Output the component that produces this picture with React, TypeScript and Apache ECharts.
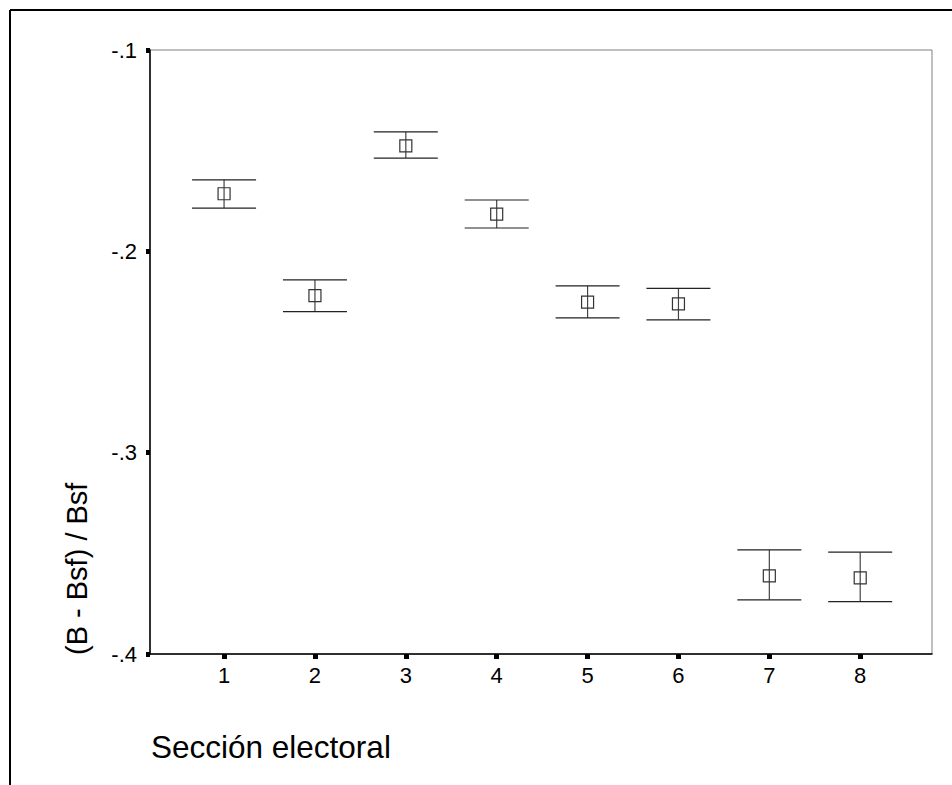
import React, { useEffect, useRef } from "react";
import * as echarts from "echarts";

const categories = [1, 2, 3, 4, 5, 6, 7, 8];
const means = [-0.1714, -0.222, -0.1476, -0.1815, -0.2252, -0.2261, -0.3612, -0.3622];
const upper = [-0.1645, -0.2142, -0.1407, -0.1745, -0.2172, -0.2184, -0.3483, -0.3494];
const lower = [-0.1785, -0.2299, -0.1537, -0.1884, -0.2331, -0.234, -0.3731, -0.374];
const yTicks = [-0.4, -0.3, -0.2, -0.1];

const xTitle = "Sección electoral";
const yTitle = "(B - Bsf) / Bsf";

const FONT = "Liberation Sans, Arial, sans-serif";

export default function App() {
  const ref = useRef<HTMLDivElement>(null);
  useEffect(() => {
    if (!ref.current) return;
    const chart = echarts.init(ref.current, undefined, { renderer: "svg" });
    const data = categories.map((c, i) => [c, means[i], upper[i], lower[i]]);
    chart.setOption({
      animation: false,
      backgroundColor: "#fff",
      grid: {
        left: 150,
        top: 50,
        right: 20,
        bottom: 131,
        show: true,
        borderColor: "#808080",
        borderWidth: 1,
        backgroundColor: "transparent",
      },
      xAxis: {
        type: "value",
        min: 0.185,
        max: 8.79,
        axisLine: { show: true, onZero: false, lineStyle: { color: "#000", width: 1.5 } },
        axisTick: {
          show: true,
          customValues: categories,
          length: 5,
          lineStyle: { color: "#000", width: 5 },
        },
        axisLabel: {
          customValues: categories,
          margin: 10,
          color: "#000",
          fontFamily: FONT,
          fontSize: 22,
        },
        splitLine: { show: false },
      },
      yAxis: {
        type: "value",
        min: -0.4,
        max: -0.1,
        interval: 0.1,
        axisLine: { show: true, onZero: false, lineStyle: { color: "#000", width: 1.5 } },
        axisTick: {
          show: true,
          customValues: yTicks,
          length: 4,
          lineStyle: { color: "#000", width: 5 },
        },
        axisLabel: {
          customValues: yTicks,
          margin: 13,
          color: "#000",
          fontFamily: FONT,
          fontSize: 22,
          formatter: (v: number) => v.toFixed(1).replace("0.", "."),
        },
        splitLine: { show: false },
      },
      series: [
        {
          type: "custom",
          data,
          renderItem: (params: any, api: any) => {
            const x = api.value(0);
            const c = api.coord([x, api.value(1)]);
            const u = api.coord([x, api.value(2)]);
            const l = api.coord([x, api.value(3)]);
            const hw = 32;
            const s = 12;
            return {
              type: "group",
              children: [
                {
                  type: "line",
                  shape: { x1: c[0], y1: u[1], x2: c[0], y2: l[1] },
                  style: { stroke: "#444", lineWidth: 1.2 },
                },
                {
                  type: "line",
                  shape: { x1: c[0] - hw, y1: u[1], x2: c[0] + hw, y2: u[1] },
                  style: { stroke: "#222", lineWidth: 1.2 },
                },
                {
                  type: "line",
                  shape: { x1: c[0] - hw, y1: l[1], x2: c[0] + hw, y2: l[1] },
                  style: { stroke: "#222", lineWidth: 1.2 },
                },
                {
                  type: "rect",
                  shape: { x: c[0] - s / 2, y: c[1] - s / 2, width: s, height: s },
                  style: { fill: "none", stroke: "#333", lineWidth: 1.2 },
                },
              ],
            };
          },
        },
      ],
      graphic: [
        {
          type: "line",
          shape: { x1: 10, y1: 10, x2: 952, y2: 10 },
          style: { stroke: "#000", lineWidth: 2 },
        },
        {
          type: "line",
          shape: { x1: 10, y1: 10, x2: 10, y2: 785 },
          style: { stroke: "#000", lineWidth: 2 },
        },
        {
          type: "text",
          x: 151,
          y: 747,
          style: {
            text: xTitle,
            font: `31.5px ${FONT}`,
            fill: "#000",
            textAlign: "left",
            textVerticalAlign: "middle",
          },
        },
        {
          type: "text",
          x: 77,
          y: 655,
          rotation: Math.PI / 2,
          style: {
            text: yTitle,
            font: `29px ${FONT}`,
            fill: "#000",
            textAlign: "left",
            textVerticalAlign: "middle",
          },
        },
      ],
    });
    return () => chart.dispose();
  }, []);
  return (
    <div
      ref={ref}
      style={{ position: "fixed", left: 0, top: 0, width: 952, height: 785, background: "#fff" }}
    />
  );
}
